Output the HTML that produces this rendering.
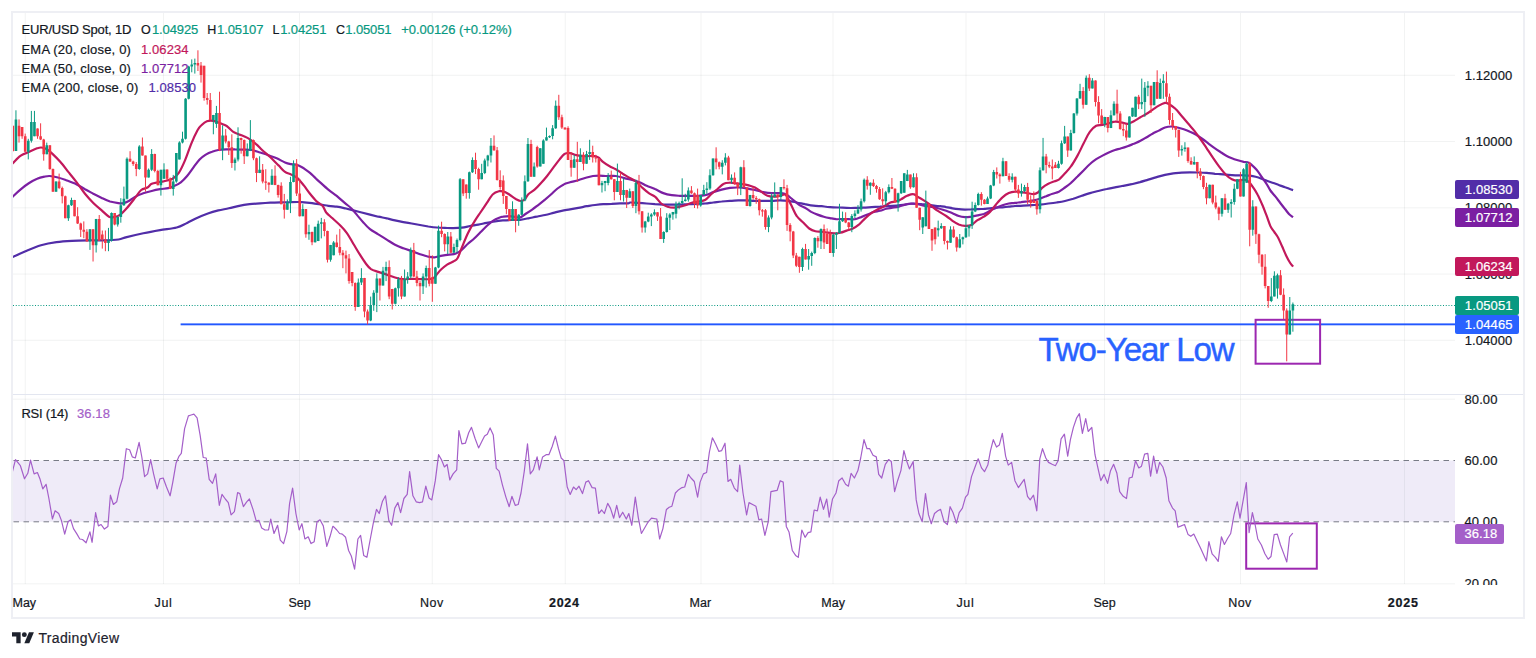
<!DOCTYPE html><html><head><meta charset="utf-8"><title>EUR/USD chart</title><style>
html,body{margin:0;padding:0;background:#fff}
body{width:1536px;height:658px;position:relative;overflow:hidden;font-family:"Liberation Sans",sans-serif;color:#131722}
#frame{position:absolute;left:11px;top:11px;width:1510px;height:604px;border:2px solid #EEEFF4}
svg{position:absolute;left:0;top:0}
.t{position:absolute;white-space:nowrap;font-size:13px;line-height:16px;-webkit-text-stroke:0.2px}
.ax{position:absolute;left:1455px;width:69px;text-align:center;font-size:13px;line-height:16px;color:#131722;letter-spacing:0.1px;-webkit-text-stroke:0.2px}
.tag{position:absolute;left:1455px;width:64.4px;height:19.3px;border-radius:2px;color:#fff;font-size:13px;line-height:20.4px;overflow:hidden;text-align:center;letter-spacing:0.1px;text-indent:3px;-webkit-text-stroke:0.2px}
.tm{position:absolute;top:595px;width:60px;margin-left:-30px;text-align:center;font-size:12.5px;line-height:16px;color:#131722;-webkit-text-stroke:0.2px}
.clip{position:absolute;left:1455px;top:395px;width:68px;height:189.8px;overflow:hidden}

</style></head><body>
<div id="frame"></div>
<svg width="1536" height="658" viewBox="0 0 1536 658"><rect x="13" y="460.5" width="1442" height="61.3" fill="#EFEBF8"/><rect x="24.75" y="13" width="1" height="571" fill="#2A2E39" fill-opacity="0.06"/><rect x="163.00" y="13" width="1" height="571" fill="#2A2E39" fill-opacity="0.06"/><rect x="299.00" y="13" width="1" height="571" fill="#2A2E39" fill-opacity="0.06"/><rect x="431.75" y="13" width="1" height="571" fill="#2A2E39" fill-opacity="0.06"/><rect x="564.75" y="13" width="1" height="571" fill="#2A2E39" fill-opacity="0.06"/><rect x="700.50" y="13" width="1" height="571" fill="#2A2E39" fill-opacity="0.06"/><rect x="832.50" y="13" width="1" height="571" fill="#2A2E39" fill-opacity="0.06"/><rect x="965.50" y="13" width="1" height="571" fill="#2A2E39" fill-opacity="0.06"/><rect x="1104.00" y="13" width="1" height="571" fill="#2A2E39" fill-opacity="0.06"/><rect x="1240.00" y="13" width="1" height="571" fill="#2A2E39" fill-opacity="0.06"/><rect x="1404.00" y="13" width="1" height="571" fill="#2A2E39" fill-opacity="0.06"/><rect x="13" y="74.80" width="1442" height="1" fill="#2A2E39" fill-opacity="0.06"/><rect x="13" y="141.05" width="1442" height="1" fill="#2A2E39" fill-opacity="0.06"/><rect x="13" y="207.30" width="1442" height="1" fill="#2A2E39" fill-opacity="0.06"/><rect x="13" y="273.55" width="1442" height="1" fill="#2A2E39" fill-opacity="0.06"/><rect x="13" y="339.80" width="1442" height="1" fill="#2A2E39" fill-opacity="0.06"/><rect x="13" y="398.7" width="1442" height="1" fill="#2A2E39" fill-opacity="0.06"/><rect x="13" y="583.3" width="1442" height="1" fill="#2A2E39" fill-opacity="0.06"/><rect x="13" y="394" width="1510" height="1" fill="#E3E6F0"/><line x1="13" y1="460.5" x2="1455" y2="460.5" stroke="#787B86" stroke-width="1" stroke-dasharray="5.5 4.5" stroke-dashoffset="-0.5"/><line x1="13" y1="521.8" x2="1455" y2="521.8" stroke="#787B86" stroke-width="1" stroke-dasharray="5.5 4.5" stroke-dashoffset="-0.5"/><rect x="180.6" y="323.4" width="1274.4" height="1.9" fill="#2258FF"/><rect x="1255.6" y="319.8" width="64.5" height="43.9" fill="none" stroke="#9C27B0" stroke-width="2"/><rect x="1246.2" y="523.4" width="70.6" height="45.3" fill="none" stroke="#9C27B0" stroke-width="2"/><line x1="13" y1="305.5" x2="1455" y2="305.5" stroke="#089981" stroke-width="1" stroke-dasharray="1 1.75"/><clipPath id="cp"><rect x="13" y="13" width="1442" height="381"/></clipPath><g clip-path="url(#cp)"><path d="M9.0 258.7C9.6 258.5 9.8 258.4 12.6 257.1C15.3 255.8 20.8 253.2 25.5 251.2C30.2 249.2 35.8 246.7 41.0 245.2C46.2 243.7 51.3 242.8 56.5 242.1C61.7 241.4 66.8 241.1 72.0 240.8C77.2 240.5 82.3 240.4 87.5 240.3C92.7 240.2 97.8 240.4 103.0 240.3C108.2 240.2 114.6 240.0 118.5 239.5C122.4 239.0 122.5 238.1 126.7 237.1C130.8 236.1 137.8 234.5 143.3 233.3C148.9 232.2 154.4 231.2 160.0 230.2C165.6 229.2 172.2 228.7 176.7 227.5C181.2 226.3 183.6 224.5 187.1 222.9C190.6 221.3 194.0 219.3 197.5 217.7C201.0 216.1 204.4 214.8 207.9 213.5C211.4 212.3 214.9 211.3 218.3 210.4C221.8 209.5 225.3 209.1 228.8 208.3C232.2 207.6 235.7 206.5 239.2 205.8C242.6 205.1 246.1 204.6 249.6 204.2C253.1 203.8 256.5 203.6 260.0 203.3C263.5 203.1 266.9 202.9 270.4 202.7C273.9 202.5 277.4 202.4 280.8 202.3C284.3 202.2 287.8 202.1 291.2 202.1C294.7 202.0 298.2 201.9 301.7 202.1C305.1 202.3 307.6 202.5 312.1 203.1C316.5 203.8 324.2 205.2 328.3 205.8C332.4 206.4 333.9 206.3 336.7 206.7C339.4 207.1 342.2 207.7 345.0 208.3C347.8 209.0 350.6 209.7 353.3 210.4C356.1 211.1 358.9 211.8 361.7 212.5C364.4 213.2 367.2 213.9 370.0 214.6C372.8 215.3 375.6 216.0 378.3 216.7C381.1 217.3 383.9 217.7 386.7 218.3C389.4 219.0 392.2 219.8 395.0 220.4C397.8 221.0 400.6 221.6 403.3 222.1C406.1 222.6 408.9 223.1 411.7 223.5C414.4 224.0 417.2 224.5 420.0 225.0C422.8 225.5 425.6 226.0 428.3 226.5C431.1 226.9 433.9 227.3 436.7 227.5C439.4 227.7 442.2 227.8 445.0 227.9C447.8 228.0 450.6 228.2 453.3 228.1C456.1 228.1 458.9 228.1 461.7 227.7C464.4 227.4 467.2 226.6 470.0 226.0C472.8 225.5 475.6 225.1 478.3 224.6C481.1 224.1 483.9 223.4 486.7 222.9C489.4 222.4 492.2 221.9 495.0 221.5C497.8 221.0 500.6 220.7 503.3 220.4C506.1 220.2 508.9 220.1 511.7 220.0C514.4 219.9 517.2 220.1 520.0 219.8C522.8 219.5 525.6 218.9 528.3 218.3C531.1 217.8 533.9 217.2 536.7 216.7C539.4 216.1 542.2 215.6 545.0 215.0C547.8 214.4 550.6 213.6 553.3 212.9C556.1 212.2 558.9 211.4 561.7 210.8C564.4 210.2 567.2 209.9 570.0 209.4C572.8 208.9 575.6 208.4 578.3 207.9C581.1 207.4 583.9 206.7 586.7 206.2C589.4 205.8 592.2 205.3 595.0 205.0C597.8 204.7 600.6 204.4 603.3 204.2C606.1 204.0 608.9 203.9 611.7 203.8C614.4 203.6 617.2 203.4 620.0 203.3C622.8 203.3 626.7 203.5 628.3 203.3C630.0 203.2 628.3 202.6 630.0 202.5C631.7 202.4 635.6 202.7 638.3 202.9C641.1 203.1 643.9 203.3 646.7 203.5C649.4 203.8 652.2 204.0 655.0 204.2C657.8 204.3 660.6 204.5 663.3 204.6C666.1 204.7 668.9 204.6 671.7 204.6C674.4 204.6 677.2 204.7 680.0 204.6C682.8 204.5 685.6 204.3 688.3 204.2C691.1 204.0 693.9 203.9 696.7 203.8C699.4 203.6 702.2 203.8 705.0 203.5C707.8 203.3 710.6 202.8 713.3 202.5C716.1 202.2 718.9 201.7 721.7 201.5C724.4 201.2 727.2 201.0 730.0 200.8C732.8 200.7 735.6 200.5 738.3 200.4C741.1 200.3 743.9 200.3 746.7 200.4C749.4 200.5 752.2 200.8 755.0 200.8C757.8 200.9 760.6 200.8 763.3 200.8C766.1 200.8 768.9 200.9 771.7 200.8C774.4 200.8 777.2 200.4 780.0 200.4C782.8 200.4 785.6 200.5 788.3 200.8C791.1 201.2 793.9 201.9 796.7 202.5C799.4 203.1 802.2 203.6 805.0 204.2C807.8 204.7 810.6 205.3 813.3 205.6C816.1 206.0 818.9 206.0 821.7 206.2C824.4 206.5 827.2 206.9 830.0 207.1C832.8 207.3 835.6 207.4 838.3 207.5C841.1 207.6 843.9 207.8 846.7 207.9C849.4 208.0 852.2 208.0 855.0 207.9C857.8 207.9 860.6 207.8 863.3 207.7C866.1 207.6 868.9 207.3 871.7 207.1C874.4 206.9 877.2 206.8 880.0 206.7C882.8 206.5 885.6 206.4 888.3 206.2C891.1 206.1 893.9 205.9 896.7 205.6C899.4 205.3 902.2 204.9 905.0 204.6C907.8 204.2 910.6 203.6 913.3 203.5C916.1 203.5 918.9 203.9 921.7 204.2C924.4 204.4 927.2 204.7 930.0 205.0C932.8 205.3 936.7 206.0 938.3 206.2C940.0 206.5 938.7 206.1 940.0 206.2C941.3 206.4 944.2 206.7 946.2 207.1C948.3 207.4 950.4 208.0 952.5 208.3C954.6 208.7 956.7 209.0 958.8 209.2C960.8 209.4 962.9 209.5 965.0 209.6C967.1 209.6 969.2 209.4 971.2 209.4C973.3 209.3 975.4 209.3 977.5 209.2C979.6 209.1 981.7 208.9 983.8 208.8C985.8 208.6 987.9 208.5 990.0 208.3C992.1 208.2 994.2 207.9 996.2 207.7C998.3 207.5 1000.4 207.5 1002.5 207.3C1004.6 207.1 1006.7 206.9 1008.8 206.7C1010.8 206.5 1012.6 206.2 1015.0 206.0C1017.4 205.9 1020.6 205.8 1023.3 205.6C1026.1 205.5 1028.9 205.4 1031.7 205.2C1034.4 205.0 1037.2 204.9 1040.0 204.6C1042.8 204.3 1045.6 203.9 1048.3 203.5C1051.1 203.2 1053.9 202.9 1056.7 202.5C1059.4 202.1 1062.2 201.7 1065.0 201.0C1067.8 200.4 1070.6 199.6 1073.3 198.8C1076.1 197.9 1078.9 196.8 1081.7 195.8C1084.4 194.9 1087.2 193.9 1090.0 193.1C1092.8 192.3 1095.6 191.7 1098.3 191.0C1101.1 190.3 1103.9 189.6 1106.7 189.0C1109.4 188.3 1112.2 187.8 1115.0 187.3C1117.8 186.8 1120.6 186.4 1123.3 185.8C1126.1 185.3 1128.9 184.8 1131.7 184.2C1134.4 183.5 1137.2 182.8 1140.0 182.1C1142.8 181.3 1145.6 180.4 1148.3 179.6C1151.1 178.8 1153.9 177.9 1156.7 177.1C1159.4 176.3 1162.2 175.4 1165.0 174.8C1167.8 174.2 1170.6 173.7 1173.3 173.3C1176.1 173.0 1178.9 172.9 1181.7 172.7C1184.4 172.5 1187.2 172.3 1190.0 172.3C1192.8 172.3 1195.6 172.4 1198.3 172.5C1201.1 172.6 1203.9 172.7 1206.7 172.9C1209.4 173.1 1212.8 173.6 1215.0 173.8C1217.2 173.9 1218.2 174.0 1220.0 174.1C1221.8 174.3 1224.0 174.5 1225.9 174.7C1227.9 174.9 1229.9 175.0 1231.9 175.1C1233.8 175.2 1235.8 175.3 1237.8 175.3C1239.8 175.3 1241.7 175.2 1243.7 175.3C1245.7 175.4 1247.7 175.5 1249.6 175.7C1251.6 175.9 1253.6 176.2 1255.6 176.7C1257.5 177.2 1259.5 177.9 1261.5 178.7C1263.5 179.4 1265.5 180.3 1267.4 181.0C1269.4 181.8 1271.4 182.3 1273.4 183.0C1275.3 183.7 1277.3 184.5 1279.3 185.2C1281.3 185.9 1283.6 186.6 1285.2 187.2C1286.9 187.7 1287.9 188.2 1289.2 188.7C1290.5 189.2 1292.5 189.9 1293.1 190.1" stroke="#512DA8" stroke-width="2.2" fill="none" stroke-linejoin="round"/><path d="M9.0 200.1C9.6 199.6 10.6 198.6 12.5 196.9C14.4 195.1 17.7 191.8 20.4 189.6C23.1 187.3 26.0 185.1 28.8 183.3C31.5 181.5 34.5 179.9 37.1 178.8C39.7 177.6 42.3 177.1 44.4 176.7C46.5 176.2 47.3 175.9 49.6 176.0C51.8 176.2 55.1 176.8 57.9 177.5C60.7 178.2 63.1 179.1 66.2 180.2C69.4 181.4 73.5 182.9 76.7 184.4C79.8 185.9 82.2 187.6 85.0 189.2C87.8 190.7 90.6 192.3 93.3 193.8C96.1 195.2 98.9 196.6 101.7 197.9C104.4 199.2 107.2 200.6 110.0 201.5C112.8 202.3 116.1 202.8 118.3 203.1C120.6 203.4 121.8 203.5 123.5 203.1C125.3 202.8 126.8 202.1 128.8 201.0C130.7 200.0 132.6 198.2 135.0 196.9C137.4 195.6 140.6 194.3 143.3 193.3C146.1 192.4 148.9 191.7 151.7 191.0C154.4 190.3 157.2 189.7 160.0 189.2C162.8 188.7 165.9 188.7 168.3 188.1C170.8 187.6 172.5 186.8 174.6 185.8C176.7 184.9 178.8 183.9 180.8 182.3C182.9 180.7 185.0 178.5 187.1 176.0C189.2 173.6 191.2 170.5 193.3 167.7C195.4 164.9 197.5 161.6 199.6 159.4C201.7 157.2 203.8 155.9 205.8 154.6C207.9 153.3 210.0 152.4 212.1 151.7C214.2 150.9 215.9 150.4 218.3 150.0C220.8 149.6 223.9 149.5 226.7 149.4C229.4 149.3 232.2 149.3 235.0 149.4C237.8 149.4 240.6 149.5 243.3 149.6C246.1 149.7 248.9 149.5 251.7 150.0C254.4 150.5 257.2 151.6 260.0 152.5C262.8 153.4 265.6 154.2 268.3 155.2C271.1 156.2 273.9 157.1 276.7 158.3C279.4 159.5 282.6 161.5 285.0 162.5C287.4 163.5 289.2 163.8 291.2 164.2C293.3 164.6 295.4 164.3 297.5 165.0C299.6 165.7 301.7 167.0 303.8 168.3C305.8 169.7 307.9 171.2 310.0 172.9C312.1 174.7 313.2 176.0 316.2 178.8C319.3 181.5 324.9 186.7 328.3 189.6C331.7 192.4 333.9 193.6 336.7 195.8C339.4 198.1 342.6 201.0 345.0 203.1C347.4 205.2 349.2 206.2 351.2 208.3C353.3 210.4 355.4 213.2 357.5 215.6C359.6 218.1 361.7 220.7 363.8 222.9C365.8 225.2 367.6 227.3 370.0 229.2C372.4 231.1 375.6 232.6 378.3 234.4C381.1 236.1 383.9 237.8 386.7 239.6C389.4 241.3 392.2 243.3 395.0 244.8C397.8 246.3 400.6 247.3 403.3 248.3C406.1 249.4 408.9 250.1 411.7 251.0C414.4 252.0 417.2 253.2 420.0 254.2C422.8 255.1 425.9 256.1 428.3 256.7C430.8 257.2 432.5 257.4 434.6 257.3C436.7 257.2 438.4 256.3 440.8 255.8C443.3 255.4 446.7 254.9 449.2 254.6C451.6 254.2 453.3 254.5 455.4 253.8C457.5 253.0 459.6 251.7 461.7 250.0C463.8 248.3 465.8 245.7 467.9 243.8C470.0 241.8 472.1 240.5 474.2 238.5C476.2 236.6 478.3 234.4 480.4 232.3C482.5 230.2 484.6 228.0 486.7 226.0C488.8 224.1 490.8 222.2 492.9 220.8C495.0 219.4 497.4 218.4 499.2 217.7C500.9 217.0 501.6 216.9 503.3 216.7C505.1 216.4 507.5 216.2 509.6 216.2C511.7 216.3 513.9 216.9 515.8 217.1C517.7 217.2 519.3 217.7 521.0 217.1C522.8 216.5 524.3 214.8 526.2 213.5C528.2 212.3 530.4 210.9 532.5 209.4C534.6 207.9 536.7 206.2 538.8 204.6C540.8 203.0 542.9 201.3 545.0 199.6C547.1 197.8 549.2 196.0 551.2 194.2C553.3 192.3 555.4 190.2 557.5 188.5C559.6 186.9 561.7 185.4 563.8 184.4C565.8 183.3 567.6 183.0 570.0 182.3C572.4 181.6 575.6 181.0 578.3 180.2C581.1 179.4 584.2 178.2 586.7 177.5C589.1 176.8 590.8 176.4 592.9 176.0C595.0 175.7 596.7 175.6 599.2 175.6C601.6 175.6 604.7 176.0 607.5 176.0C610.3 176.1 613.1 175.7 615.8 176.0C618.6 176.4 620.4 177.2 624.2 178.1C627.9 179.1 634.6 180.4 638.3 181.7C642.1 183.0 643.9 184.6 646.7 185.8C649.4 187.0 652.2 187.7 655.0 189.0C657.8 190.2 660.6 192.1 663.3 193.1C666.1 194.2 668.9 194.8 671.7 195.2C674.4 195.7 677.2 195.7 680.0 195.8C682.8 195.9 685.6 195.8 688.3 195.8C691.1 195.8 693.9 195.9 696.7 195.8C699.4 195.7 702.2 195.8 705.0 195.2C707.8 194.6 710.6 193.0 713.3 192.1C716.1 191.1 718.9 190.3 721.7 189.6C724.4 188.9 727.2 188.3 730.0 187.9C732.8 187.6 735.6 187.4 738.3 187.5C741.1 187.6 743.9 187.9 746.7 188.3C749.4 188.8 752.2 189.4 755.0 190.0C757.8 190.6 760.6 191.6 763.3 192.1C766.1 192.6 768.9 193.0 771.7 193.1C774.4 193.3 777.6 192.9 780.0 193.1C782.4 193.4 784.2 193.5 786.2 194.6C788.3 195.6 790.4 197.7 792.5 199.4C794.6 201.0 796.7 203.2 798.8 204.6C800.8 206.0 802.9 206.5 805.0 207.7C807.1 208.9 809.2 210.7 811.2 211.9C813.3 213.0 815.4 213.8 817.5 214.6C819.6 215.4 821.7 216.1 823.8 216.7C825.8 217.3 827.9 217.7 830.0 218.1C832.1 218.5 834.2 219.0 836.2 219.2C838.3 219.3 840.4 219.2 842.5 219.2C844.6 219.2 846.7 219.2 848.8 219.2C850.8 219.2 852.9 219.5 855.0 219.2C857.1 218.8 859.2 217.8 861.2 217.1C863.3 216.3 865.4 215.5 867.5 214.6C869.6 213.7 871.7 212.5 873.8 211.9C875.8 211.2 877.9 211.4 880.0 210.8C882.1 210.3 884.2 209.3 886.2 208.8C888.3 208.2 890.4 208.1 892.5 207.7C894.6 207.4 896.7 207.2 898.8 206.7C900.8 206.1 902.9 205.1 905.0 204.6C907.1 204.1 909.2 203.6 911.2 203.5C913.3 203.5 915.4 203.8 917.5 204.2C919.6 204.5 921.7 205.2 923.8 205.6C925.8 206.0 927.9 206.3 930.0 206.7C932.1 207.0 933.5 207.0 936.2 207.7C939.0 208.4 943.5 209.9 946.2 210.8C949.0 211.8 950.4 212.5 952.5 213.3C954.6 214.2 956.7 215.4 958.8 216.0C960.8 216.7 962.9 217.0 965.0 217.1C967.1 217.2 969.2 216.9 971.2 216.7C973.3 216.4 975.4 215.9 977.5 215.4C979.6 215.0 981.7 214.7 983.8 214.0C985.8 213.2 987.9 211.9 990.0 210.8C992.1 209.8 994.2 208.6 996.2 207.7C998.3 206.8 1000.4 205.9 1002.5 205.2C1004.6 204.5 1006.7 203.9 1008.8 203.5C1010.8 203.2 1012.9 203.2 1015.0 202.9C1017.1 202.7 1019.2 202.3 1021.2 202.1C1023.3 201.8 1025.4 201.7 1027.5 201.5C1029.6 201.2 1031.7 200.9 1033.8 200.4C1035.8 200.0 1037.9 199.4 1040.0 198.8C1042.1 198.1 1044.2 197.1 1046.2 196.2C1048.3 195.4 1050.4 194.5 1052.5 193.8C1054.6 193.0 1056.7 192.7 1058.8 191.7C1060.8 190.6 1062.9 189.0 1065.0 187.5C1067.1 186.0 1069.2 184.5 1071.2 182.7C1073.3 180.9 1075.4 178.5 1077.5 176.5C1079.6 174.4 1081.7 172.3 1083.8 170.2C1085.8 168.1 1087.9 165.8 1090.0 164.0C1092.1 162.1 1094.2 160.6 1096.2 159.2C1098.3 157.8 1100.4 156.7 1102.5 155.6C1104.6 154.5 1106.7 153.4 1108.8 152.5C1110.8 151.6 1112.9 150.7 1115.0 150.0C1117.1 149.3 1119.2 149.0 1121.2 148.3C1123.3 147.7 1125.4 147.0 1127.5 146.2C1129.6 145.5 1131.7 144.6 1133.8 143.8C1135.8 142.9 1137.9 142.1 1140.0 141.0C1142.1 140.0 1144.2 138.7 1146.2 137.5C1148.3 136.3 1150.4 134.9 1152.5 133.8C1154.6 132.6 1156.7 131.7 1158.8 130.6C1160.8 129.6 1162.9 128.2 1165.0 127.5C1167.1 126.8 1169.2 126.5 1171.2 126.5C1173.3 126.5 1175.4 127.0 1177.5 127.5C1179.6 128.0 1181.7 128.5 1183.8 129.2C1185.8 129.9 1187.9 130.7 1190.0 131.7C1192.1 132.6 1194.2 133.6 1196.2 134.8C1198.3 136.0 1200.4 137.5 1202.5 139.0C1204.6 140.5 1206.7 142.2 1208.8 143.8C1210.8 145.3 1212.9 146.9 1215.0 148.3C1217.1 149.8 1219.4 151.3 1221.2 152.5C1223.1 153.7 1224.2 154.6 1225.9 155.5C1227.7 156.5 1229.9 157.5 1231.9 158.3C1233.8 159.1 1235.8 159.7 1237.8 160.3C1239.8 160.9 1242.1 161.5 1243.7 161.9C1245.4 162.2 1246.4 161.8 1247.7 162.3C1249.0 162.7 1250.1 163.6 1251.6 164.8C1253.1 166.1 1254.9 167.8 1256.6 169.8C1258.2 171.7 1259.9 174.4 1261.5 176.7C1263.1 179.0 1265.0 181.3 1266.4 183.6C1267.9 185.9 1268.9 188.4 1270.4 190.5C1271.9 192.7 1273.7 194.4 1275.3 196.4C1277.0 198.5 1278.6 200.8 1280.3 203.0C1281.9 205.1 1283.7 207.4 1285.2 209.3C1286.7 211.2 1287.9 212.9 1289.2 214.2C1290.5 215.5 1292.5 216.7 1293.1 217.2" stroke="#7B1FA2" stroke-width="2.2" fill="none" stroke-linejoin="round"/><path d="M9.0 166.9C9.6 166.4 10.6 165.4 12.5 163.5C14.4 161.7 17.7 157.7 20.4 155.8C23.1 153.9 26.0 153.3 28.8 152.1C31.5 150.8 35.0 149.1 37.1 148.3C39.2 147.6 39.7 147.4 41.2 147.5C42.8 147.6 44.7 148.0 46.5 149.0C48.2 149.9 49.4 151.0 51.7 153.1C53.9 155.2 57.2 158.3 60.0 161.5C62.8 164.6 65.6 168.4 68.3 171.9C71.1 175.3 73.9 178.6 76.7 182.3C79.4 185.9 82.2 190.3 85.0 193.8C87.8 197.2 90.6 200.3 93.3 203.1C96.1 205.9 99.1 208.2 101.7 210.4C104.3 212.7 106.9 215.6 109.0 216.7C111.0 217.8 112.3 217.4 114.2 217.1C116.1 216.7 118.3 216.0 120.4 214.6C122.5 213.1 124.2 211.1 126.7 208.3C129.1 205.6 132.6 201.0 135.0 197.9C137.4 194.9 139.2 191.7 141.2 190.0C143.3 188.3 145.8 188.5 147.5 187.5C149.2 186.5 149.9 184.6 151.7 183.8C153.4 182.9 155.8 182.7 157.9 182.3C160.0 181.9 161.7 181.8 164.2 181.2C166.6 180.7 170.1 180.1 172.5 178.8C174.9 177.4 176.7 176.0 178.8 172.9C180.8 169.9 182.9 165.3 185.0 160.4C187.1 155.6 189.2 148.8 191.2 143.8C193.3 138.7 195.8 133.3 197.5 130.2C199.2 127.1 200.1 126.5 201.7 125.0C203.2 123.5 205.0 121.9 206.9 121.2C208.8 120.6 210.9 120.5 213.1 120.8C215.4 121.2 218.2 122.5 220.4 123.3C222.7 124.2 224.6 124.7 226.7 126.0C228.8 127.4 230.8 130.3 232.9 131.7C235.0 133.1 236.7 133.3 239.2 134.4C241.6 135.4 244.7 136.4 247.5 137.9C250.3 139.5 253.4 141.7 255.8 143.8C258.3 145.8 259.7 147.7 262.1 150.0C264.5 152.3 267.6 154.7 270.4 157.3C273.2 159.9 276.3 163.2 278.8 165.6C281.2 168.1 282.9 170.4 285.0 171.9C287.1 173.4 289.2 173.5 291.2 174.6C293.3 175.6 295.4 176.3 297.5 178.1C299.6 179.9 301.7 182.8 303.8 185.4C305.8 188.0 307.9 191.1 310.0 193.8C312.1 196.4 314.2 199.0 316.2 201.0C318.3 203.1 320.8 203.9 322.5 205.8C324.2 207.7 324.6 210.4 326.2 212.5C327.9 214.6 330.1 216.1 332.5 218.3C334.9 220.6 338.4 223.5 340.8 226.0C343.3 228.5 345.0 230.4 347.1 233.3C349.2 236.3 351.2 240.3 353.3 243.8C355.4 247.2 357.5 250.9 359.6 254.2C361.7 257.5 363.9 261.0 365.8 263.5C367.7 266.0 369.0 267.8 371.0 269.2C373.1 270.6 375.7 271.0 378.3 271.9C380.9 272.8 383.9 273.6 386.7 274.6C389.4 275.5 392.2 276.7 395.0 277.5C397.8 278.3 400.6 279.0 403.3 279.2C406.1 279.4 408.9 278.8 411.7 278.8C414.4 278.8 417.2 279.1 420.0 279.2C422.8 279.2 426.1 279.3 428.3 279.2C430.6 279.0 432.2 278.9 433.5 278.1C434.9 277.4 435.5 276.0 436.7 274.6C437.9 273.2 439.1 271.5 440.8 269.8C442.6 268.1 445.0 266.0 447.1 264.6C449.2 263.2 451.6 262.5 453.3 261.5C455.1 260.4 456.1 260.6 457.5 258.3C458.9 256.1 459.9 252.1 461.7 247.9C463.4 243.8 465.8 237.7 467.9 233.3C470.0 229.0 472.1 225.3 474.2 221.9C476.2 218.4 478.3 215.6 480.4 212.5C482.5 209.4 484.6 206.2 486.7 203.1C488.8 200.1 490.8 196.1 492.9 194.2C495.0 192.2 497.3 191.7 499.2 191.2C501.1 190.8 502.6 191.1 504.4 191.7C506.1 192.3 507.7 193.6 509.6 194.8C511.5 196.0 513.9 197.9 515.8 199.0C517.7 200.0 519.5 201.0 521.0 201.0C522.6 201.0 524.0 200.1 525.2 199.0C526.4 197.8 526.8 195.7 528.3 194.2C529.9 192.6 532.5 191.4 534.6 189.6C536.7 187.8 538.8 185.6 540.8 183.3C542.9 181.1 545.0 178.6 547.1 176.0C549.2 173.4 551.2 170.5 553.3 167.7C555.4 164.9 557.7 161.7 559.6 159.4C561.5 157.0 563.1 154.8 564.8 153.8C566.5 152.7 568.1 152.9 570.0 153.1C571.9 153.4 573.8 154.7 576.2 155.2C578.7 155.7 581.8 156.1 584.6 156.2C587.4 156.4 590.7 155.7 592.9 155.8C595.2 156.0 596.4 156.2 598.1 157.3C599.9 158.3 601.4 160.6 603.3 162.1C605.2 163.6 607.5 165.1 609.6 166.2C611.7 167.4 613.8 168.0 615.8 169.2C617.9 170.3 620.0 172.0 622.1 173.3C624.2 174.7 626.0 175.7 628.3 177.1C630.7 178.5 633.9 179.9 636.2 181.7C638.6 183.5 640.4 186.0 642.5 187.9C644.6 189.8 646.7 191.7 648.8 193.1C650.8 194.6 652.9 194.9 655.0 196.7C657.1 198.4 659.2 201.9 661.2 203.5C663.3 205.2 665.4 206.0 667.5 206.7C669.6 207.4 671.7 207.7 673.8 207.7C675.8 207.7 677.9 207.1 680.0 206.7C682.1 206.2 684.2 205.7 686.2 205.0C688.3 204.3 690.4 203.1 692.5 202.5C694.6 201.9 696.7 201.9 698.8 201.5C700.8 201.0 702.9 201.2 705.0 200.0C707.1 198.8 709.2 196.0 711.2 194.2C713.3 192.3 715.4 190.7 717.5 189.0C719.6 187.2 721.7 184.8 723.8 183.8C725.8 182.7 727.9 182.8 730.0 182.7C732.1 182.6 734.2 183.1 736.2 183.3C738.3 183.6 740.4 183.8 742.5 184.2C744.6 184.5 746.7 184.9 748.8 185.4C750.8 186.0 752.9 186.5 755.0 187.5C757.1 188.5 759.2 190.3 761.2 191.7C763.3 193.1 765.4 195.0 767.5 195.8C769.6 196.7 771.7 196.7 773.8 196.7C775.8 196.7 778.1 196.2 780.0 195.8C781.9 195.5 783.8 194.0 785.2 194.6C786.6 195.2 787.1 197.2 788.3 199.4C789.5 201.6 791.1 204.9 792.5 207.7C793.9 210.5 794.9 213.6 796.7 216.0C798.4 218.5 800.8 220.2 802.9 222.3C805.0 224.4 807.1 227.0 809.2 228.5C811.3 230.0 813.3 230.7 815.4 231.2C817.5 231.8 819.6 231.4 821.7 231.7C823.8 231.9 825.8 232.4 827.9 232.7C830.0 233.0 832.1 233.3 834.2 233.3C836.3 233.3 838.3 233.2 840.4 232.7C842.5 232.3 844.6 231.3 846.7 230.6C848.8 229.9 850.8 229.6 852.9 228.5C855.0 227.5 857.1 226.1 859.2 224.4C861.3 222.6 863.3 220.0 865.4 218.1C867.5 216.2 869.6 214.4 871.7 212.9C873.8 211.4 875.8 210.3 877.9 209.2C880.0 208.1 882.1 207.4 884.2 206.2C886.3 205.1 888.5 203.3 890.4 202.5C892.3 201.7 893.9 202.0 895.6 201.5C897.4 200.9 898.9 200.3 900.8 199.4C902.7 198.4 905.0 196.7 907.1 195.8C909.2 195.0 911.4 193.9 913.3 194.2C915.2 194.4 916.8 196.3 918.5 197.3C920.3 198.3 921.8 199.2 923.8 200.4C925.7 201.6 927.9 203.0 930.0 204.6C932.1 206.1 933.5 207.9 936.2 209.8C939.0 211.7 943.5 214.2 946.2 216.0C949.0 217.9 950.4 219.4 952.5 220.8C954.6 222.2 956.7 223.5 958.8 224.4C960.8 225.2 962.9 225.7 965.0 225.8C967.1 225.9 969.2 225.9 971.2 225.0C973.3 224.1 975.4 221.6 977.5 220.2C979.6 218.8 981.7 218.1 983.8 216.7C985.8 215.3 987.9 214.0 990.0 211.9C992.1 209.8 994.2 206.6 996.2 204.2C998.3 201.7 1000.4 199.1 1002.5 197.3C1004.6 195.5 1006.7 194.1 1008.8 193.1C1010.8 192.2 1012.9 191.8 1015.0 191.7C1017.1 191.5 1019.2 191.8 1021.2 192.1C1023.3 192.3 1025.4 192.8 1027.5 193.1C1029.6 193.5 1032.0 194.3 1033.8 194.2C1035.5 194.1 1036.5 193.5 1037.9 192.5C1039.3 191.5 1040.3 189.4 1042.1 187.9C1043.8 186.5 1046.2 184.9 1048.3 183.8C1050.4 182.6 1052.8 181.9 1054.6 181.2C1056.3 180.6 1057.0 180.9 1058.8 179.6C1060.5 178.3 1062.9 175.6 1065.0 173.3C1067.1 171.1 1069.2 169.0 1071.2 166.0C1073.3 163.1 1075.4 159.4 1077.5 155.6C1079.6 151.8 1081.7 147.1 1083.8 143.1C1085.8 139.1 1087.9 134.5 1090.0 131.7C1092.1 128.8 1094.2 126.9 1096.2 125.8C1098.3 124.7 1100.4 125.4 1102.5 125.0C1104.6 124.6 1106.7 123.9 1108.8 123.3C1110.8 122.8 1112.9 121.8 1115.0 121.7C1117.1 121.5 1119.2 121.9 1121.2 122.3C1123.3 122.6 1125.4 123.9 1127.5 123.8C1129.6 123.6 1131.7 122.3 1133.8 121.2C1135.8 120.2 1137.9 118.7 1140.0 117.5C1142.1 116.3 1144.2 115.2 1146.2 114.0C1148.3 112.7 1150.4 111.2 1152.5 109.8C1154.6 108.4 1156.7 106.8 1158.8 105.6C1160.8 104.5 1163.3 103.2 1165.0 102.9C1166.7 102.7 1167.4 103.2 1169.2 104.2C1170.9 105.1 1173.3 106.8 1175.4 108.8C1177.5 110.7 1179.6 113.6 1181.7 116.0C1183.8 118.5 1185.8 120.9 1187.9 123.3C1190.0 125.8 1192.1 128.0 1194.2 130.6C1196.2 133.2 1198.3 136.0 1200.4 139.0C1202.5 141.9 1204.6 145.2 1206.7 148.3C1208.8 151.5 1210.8 154.7 1212.9 157.7C1215.0 160.8 1217.0 163.8 1219.2 166.7C1221.3 169.5 1223.8 172.6 1225.9 174.7C1228.0 176.8 1229.9 178.3 1231.9 179.2C1233.8 180.2 1235.8 180.6 1237.8 180.6C1239.8 180.7 1241.9 179.5 1243.7 179.6C1245.5 179.8 1247.2 180.5 1248.7 181.6C1250.1 182.8 1251.1 184.4 1252.6 186.6C1254.1 188.7 1255.9 191.3 1257.5 194.5C1259.2 197.6 1261.0 201.9 1262.5 205.3C1264.0 208.8 1265.1 211.8 1266.4 215.2C1267.8 218.7 1269.1 223.3 1270.4 226.1C1271.7 228.9 1273.0 230.0 1274.3 232.0C1275.7 234.0 1277.0 235.5 1278.3 237.9C1279.6 240.4 1280.9 243.9 1282.3 246.8C1283.6 249.8 1284.9 253.0 1286.2 255.7C1287.5 258.4 1289.0 261.2 1290.2 263.0C1291.3 264.9 1292.6 266.0 1293.1 266.6" stroke="#C2185B" stroke-width="2.2" fill="none" stroke-linejoin="round"/><path d="M15.95 110.3V151.0M28.28 138.8V159.4M31.37 110.9V142.6M34.45 110.9V136.2M46.79 142.6V154.3M56.04 181.4V191.7M68.38 204.7V220.9M71.47 197.7V205.9M89.97 229.2V249.9M96.14 218.9V252.5M108.48 227.9V251.2M111.56 212.4V241.6M117.73 216.3V226.6M120.82 198.2V222.7M123.90 186.6V205.9M126.99 157.4V199.5M139.32 145.2V169.8M148.58 168.5V177.5M151.66 149.1V171.1M160.91 169.8V195.6M164.00 163.3V178.8M173.25 174.9V195.6M176.34 153.0V182.7M179.42 141.3V159.4M182.50 131.7V143.4M185.59 98.1V139.5M188.67 65.8V99.4M191.76 59.4V72.3M194.84 58.6V73.6M213.35 114.9V134.3M216.43 105.9V127.9M222.60 125.3V160.2M234.94 157.6V170.5M238.02 127.3V161.4M247.28 143.4V156.3M250.36 120.1V151.1M259.61 156.3V173.1M271.95 169.2V184.7M287.37 199.4V209.7M290.46 176.8V213.1M293.54 160.4V182.3M302.80 204.2V216.2M308.96 224.7V239.8M315.13 226.8V242.5M318.22 220.6V241.1M321.30 217.9V238.4M330.56 244.9V261.7M333.64 241.1V255.3M358.32 278.5V307.0M361.40 268.2V285.0M370.65 296.6V321.2M373.74 290.2V310.8M376.82 273.4V312.1M382.99 266.9V285.6M386.07 261.7V281.1M395.33 287.6V304.4M398.41 277.2V296.6M404.58 269.5V296.6M407.67 272.1V283.7M410.75 247.5V278.5M423.09 273.4V294.0M426.17 265.6V287.6M435.43 266.9V283.7M438.51 225.6V268.2M447.76 232.0V254.0M453.93 243.6V252.7M457.02 238.5V252.7M460.10 178.0V241.3M469.35 171.6V198.7M472.44 157.4V172.9M481.69 163.8V179.3M484.78 158.6V174.1M487.86 154.8V166.4M490.94 138.0V162.5M512.54 201.3V220.7M518.70 214.2V225.8M521.79 197.4V215.5M524.87 175.4V201.3M527.96 138.0V181.9M534.13 162.5V176.7M540.29 148.3V166.4M543.38 139.3V163.8M546.46 127.6V140.6M549.55 135.4V138.0M552.63 125.1V139.3M555.72 100.5V128.9M574.22 154.8V167.7M580.39 148.3V161.9M586.56 150.9V163.8M589.65 139.8V159.9M601.98 180.9V192.5M605.07 180.9V191.2M608.15 173.1V185.3M617.40 163.6V191.9M623.57 178.3V201.6M629.74 188.6V197.7M635.91 179.6V213.2M645.16 220.9V232.6M648.25 212.7V222.2M651.33 213.2V226.1M654.42 209.3V215.8M663.67 231.3V242.9M666.76 213.2V232.6M669.84 213.2V230.0M672.92 211.9V219.7M676.01 201.6V218.4M679.09 201.6V209.3M682.18 178.3V204.1M685.26 193.8V201.6M688.35 187.4V201.6M700.68 195.1V206.7M703.77 184.8V195.1M706.85 182.2V193.8M709.94 169.3V189.9M713.02 158.4V175.7M722.27 160.2V174.4M725.36 153.2V165.4M731.53 174.4V183.5M740.78 166.7V195.1M750.03 194.9V206.7M768.54 215.4V232.2M771.62 193.5V219.3M774.71 182.4V197.4M780.88 187.0V199.9M802.47 247.7V271.0M808.64 249.0V269.7M811.72 251.6V265.8M814.81 237.4V254.2M820.98 228.4V249.0M833.31 233.5V256.8M836.40 232.2V249.0M839.48 203.8V233.5M842.57 211.6V221.9M851.82 214.1V232.2M854.90 210.3V218.0M857.99 205.1V214.1M861.07 198.6V211.6M864.16 178.5V202.5M870.33 182.4V194.8M885.75 190.9V205.1M888.83 184.4V193.5M898.09 192.7V211.6M901.17 181.1V194.0M904.25 173.3V192.7M907.34 169.9V181.1M913.51 173.3V187.5M922.76 217.2V234.0M925.84 190.6V226.3M938.18 220.6V236.6M941.27 223.2V228.9M950.52 226.3V242.8M959.77 234.0V248.2M962.86 236.6V244.4M965.94 215.9V237.9M969.03 225.0V236.6M972.11 201.7V228.9M975.20 202.5V212.1M978.28 192.7V205.6M987.53 196.6V203.9M990.62 184.9V199.1M993.70 169.9V186.2M1002.95 157.8V176.3M1012.21 173.3V182.4M1021.46 183.6V196.6M1024.55 184.9V192.2M1039.97 167.4V213.4M1043.05 137.9V170.7M1058.47 160.8V168.5M1061.56 140.6V164.7M1064.64 125.9V144.0M1070.81 129.8V150.4M1073.90 113.0V133.6M1076.98 98.2V115.6M1080.06 83.8V98.8M1086.23 75.5V104.8M1092.40 78.1V88.4M1104.74 116.8V127.2M1110.91 110.4V128.1M1113.99 101.3V115.6M1129.42 116.3V137.5M1132.50 107.8V116.8M1135.58 96.7V116.8M1141.75 78.6V109.1M1144.84 82.0V116.8M1147.92 81.2V96.2M1154.09 82.0V105.2M1160.26 78.6V98.8M1163.34 74.2V98.8M1181.85 145.3V155.6M1184.93 142.2V151.7M1194.19 156.4V164.6M1209.61 184.7V198.3M1221.95 198.3V216.6M1228.12 202.9V212.9M1231.20 199.2V217.5M1234.28 183.7V204.7M1237.37 179.2V189.2M1243.54 168.2V196.5M1246.62 161.9V182.8M1252.79 200.2V235.7M1271.30 278.1V302.1M1274.38 271.3V296.4M1277.47 273.6V298.6M1289.80 297.0V334.5M1292.89 302.5V331.7" stroke="#089981" stroke-width="1" fill="none"/><path d="M12.86 125.8V151.7M19.03 119.4V142.6M22.12 127.1V138.8M25.20 133.6V151.7M37.54 128.4V138.8M40.62 123.3V140.1M43.71 138.8V160.7M49.88 145.2V169.8M52.96 168.5V191.7M59.13 173.6V189.1M62.21 186.6V203.4M65.30 195.6V218.2M74.55 199.9V216.3M77.63 207.2V224.0M80.72 222.7V237.0M83.80 221.4V238.2M86.89 229.2V241.5M93.06 229.2V261.5M99.23 215.0V240.8M102.31 230.5V248.6M105.39 230.5V251.2M114.65 213.0V225.3M130.07 151.2V162.0M133.15 160.7V165.9M136.24 162.0V176.2M142.41 137.5V155.6M145.49 155.6V191.7M154.74 153.7V172.4M157.83 169.8V185.3M167.08 169.5V180.1M170.17 177.5V189.1M197.93 50.3V71.0M201.01 62.0V82.6M204.10 65.8V100.7M207.18 93.0V104.6M210.26 93.0V120.1M219.52 91.7V151.1M225.69 129.1V143.4M228.77 140.8V155.0M231.85 134.3V167.9M241.11 137.7V153.7M244.19 139.5V164.0M253.45 139.5V160.2M256.53 157.6V182.1M262.70 164.0V183.4M265.78 169.2V189.9M268.87 182.1V192.5M275.04 165.3V185.2M278.12 184.7V197.6M281.21 182.3V204.2M284.29 193.9V218.6M296.63 159.1V196.0M299.71 178.9V216.5M305.88 209.0V237.7M312.05 231.6V245.2M324.39 219.2V236.3M327.47 230.7V262.5M336.72 234.6V247.5M339.81 228.9V255.3M342.89 250.1V268.2M345.98 250.6V273.4M349.06 254.0V283.7M352.15 272.1V286.3M355.23 282.4V310.8M364.48 277.9V317.3M367.57 309.5V324.5M379.91 278.5V300.5M389.16 260.4V299.2M392.24 288.9V309.5M401.50 275.9V299.2M413.83 242.9V277.2M416.92 270.8V286.3M420.00 281.1V300.5M429.26 250.1V286.3M432.34 255.3V301.8M441.59 221.7V237.2M444.68 233.3V251.4M450.85 232.0V252.7M463.18 179.3V196.1M466.27 184.5V198.7M475.52 152.7V174.1M478.61 167.7V189.7M494.03 135.4V150.9M497.11 147.0V180.6M500.20 170.3V189.7M503.28 175.4V203.9M506.37 196.1V214.2M509.45 209.0V220.7M515.62 209.0V232.3M531.04 139.8V176.7M537.21 145.7V167.7M558.80 94.8V119.9M561.89 114.7V128.9M564.97 127.6V129.4M568.05 126.3V159.9M571.14 152.2V176.7M577.31 141.8V181.9M583.48 152.2V170.3M592.73 145.7V162.5M595.81 154.8V162.5M598.90 158.6V185.3M611.24 170.6V179.6M614.32 179.1V200.3M620.49 173.1V200.3M626.66 189.9V208.0M632.83 191.2V208.0M639.00 174.9V214.5M642.08 211.3V232.6M657.50 212.3V220.9M660.59 208.0V239.0M691.43 186.1V193.8M694.51 192.5V208.0M697.60 188.6V208.5M716.11 147.3V169.3M719.19 161.5V169.3M728.44 155.8V180.2M734.61 172.4V184.8M737.70 182.2V195.1M743.87 160.2V187.4M746.95 187.4V206.1M753.12 187.0V199.9M756.20 196.1V203.8M759.29 198.6V215.4M762.37 209.0V216.7M765.46 209.0V229.7M777.79 194.3V210.3M783.96 179.3V189.6M787.05 184.9V230.9M790.13 223.2V241.3M793.22 230.9V258.1M796.30 252.9V267.1M799.38 256.8V272.8M805.55 243.9V259.4M817.89 236.1V247.7M824.06 224.5V249.0M827.14 228.4V243.9M830.23 229.7V252.9M845.65 212.3V223.2M848.73 221.9V229.7M867.24 176.2V189.6M873.41 179.3V187.0M876.49 184.9V192.7M879.58 187.0V199.9M882.66 188.3V205.1M891.92 178.0V189.1M895.00 188.3V202.5M910.42 174.6V188.8M916.59 173.3V207.7M919.68 207.7V230.2M928.93 203.7V228.9M932.01 228.9V250.8M935.10 227.6V244.4M944.35 226.0V244.4M947.44 240.5V249.5M953.60 226.3V237.9M956.69 236.6V251.6M981.36 192.2V205.6M984.45 199.1V204.3M996.79 167.4V178.5M999.87 173.3V183.6M1006.04 161.2V175.9M1009.12 173.3V181.8M1015.29 176.7V192.7M1018.38 184.9V197.9M1027.63 182.9V204.3M1030.71 195.3V207.7M1033.80 191.4V203.0M1036.88 199.1V214.7M1046.14 153.9V173.3M1049.22 161.7V168.1M1052.31 159.5V179.4M1055.39 162.1V167.9M1067.73 136.6V156.9M1083.15 87.1V108.6M1089.32 74.2V91.0M1095.49 80.4V106.5M1098.57 96.2V123.3M1101.66 109.1V124.0M1107.82 117.1V132.4M1117.08 89.7V120.7M1120.16 111.2V129.8M1123.25 123.3V136.2M1126.33 124.6V140.6M1138.67 94.9V109.1M1151.01 85.8V113.0M1157.17 70.3V98.8M1166.43 71.6V102.6M1169.51 93.6V124.6M1172.60 113.0V129.8M1175.68 125.9V137.5M1178.77 129.8V156.9M1188.02 147.6V162.8M1191.10 157.3V164.6M1197.27 161.9V178.3M1200.36 168.2V180.1M1203.44 175.5V189.2M1206.53 182.8V204.3M1212.69 184.7V204.3M1215.78 195.6V209.3M1218.86 206.5V220.2M1225.03 193.8V209.7M1240.45 171.9V196.5M1249.71 161.9V246.3M1255.88 206.5V243.9M1258.96 233.7V263.3M1262.04 254.2V274.7M1265.13 254.2V288.4M1268.21 286.1V307.8M1280.55 270.1V295.2M1283.64 288.4V319.2M1286.72 308.4V361.3" stroke="#F23645" stroke-width="1" fill="none"/><path d="M14.65 119.4h2.6V151.0h-2.6zM26.98 140.7h2.6V151.7h-2.6zM30.07 122.0h2.6V140.7h-2.6zM33.15 122.0h2.6V136.2h-2.6zM45.49 145.2h2.6V154.3h-2.6zM54.74 181.4h2.6V191.7h-2.6zM67.08 205.3h2.6V218.2h-2.6zM70.17 199.9h2.6V205.3h-2.6zM88.67 229.2h2.6V241.5h-2.6zM94.84 218.9h2.6V245.3h-2.6zM107.18 240.6h2.6V243.0h-2.6zM110.26 213.0h2.6V240.6h-2.6zM116.43 216.9h2.6V224.4h-2.6zM119.52 205.3h2.6V216.9h-2.6zM122.60 198.8h2.6V205.3h-2.6zM125.69 158.8h2.6V198.8h-2.6zM138.02 146.5h2.6V169.1h-2.6zM147.28 169.8h2.6V177.5h-2.6zM150.36 154.0h2.6V169.8h-2.6zM159.61 169.8h2.6V185.3h-2.6zM162.70 169.5h2.6V178.8h-2.6zM171.95 181.4h2.6V189.1h-2.6zM175.04 153.0h2.6V181.4h-2.6zM178.12 142.4h2.6V159.4h-2.6zM181.20 138.8h2.6V142.4h-2.6zM184.29 98.8h2.6V138.8h-2.6zM187.37 66.5h2.6V98.8h-2.6zM190.46 64.5h2.6V66.5h-2.6zM193.54 63.0h2.6V64.5h-2.6zM212.05 114.9h2.6V120.1h-2.6zM215.13 113.0h2.6V124.0h-2.6zM221.30 135.6h2.6V149.8h-2.6zM233.64 159.5h2.6V163.1h-2.6zM236.72 137.9h2.6V159.5h-2.6zM245.98 150.5h2.6V156.3h-2.6zM249.06 140.1h2.6V150.5h-2.6zM258.31 169.8h2.6V173.1h-2.6zM270.65 175.7h2.6V184.7h-2.6zM286.07 202.5h2.6V209.7h-2.6zM289.16 182.0h2.6V202.5h-2.6zM292.24 163.8h2.6V182.0h-2.6zM301.50 209.0h2.6V216.2h-2.6zM307.66 231.9h2.6V234.3h-2.6zM313.83 226.8h2.6V242.2h-2.6zM316.92 223.7h2.6V241.1h-2.6zM320.00 222.3h2.6V223.7h-2.6zM329.26 244.9h2.6V259.8h-2.6zM332.34 242.4h2.6V255.3h-2.6zM357.02 282.4h2.6V307.0h-2.6zM360.10 277.9h2.6V282.4h-2.6zM369.35 305.0h2.6V320.5h-2.6zM372.44 292.7h2.6V305.0h-2.6zM375.52 278.5h2.6V292.7h-2.6zM381.69 270.8h2.6V285.6h-2.6zM384.77 266.9h2.6V270.8h-2.6zM394.03 288.2h2.6V303.7h-2.6zM397.11 279.2h2.6V288.2h-2.6zM403.28 279.2h2.6V296.6h-2.6zM406.37 276.6h2.6V279.2h-2.6zM409.45 250.1h2.6V276.6h-2.6zM421.79 276.6h2.6V286.3h-2.6zM424.87 267.9h2.6V276.6h-2.6zM434.13 267.5h2.6V283.7h-2.6zM437.21 230.7h2.6V267.5h-2.6zM446.46 236.5h2.6V244.3h-2.6zM452.63 246.9h2.6V252.7h-2.6zM455.72 239.9h2.6V246.9h-2.6zM458.80 179.3h2.6V239.9h-2.6zM468.05 172.2h2.6V192.9h-2.6zM471.14 159.9h2.6V172.2h-2.6zM480.39 172.9h2.6V179.3h-2.6zM483.48 160.6h2.6V172.9h-2.6zM486.56 155.4h2.6V160.6h-2.6zM489.64 145.7h2.6V155.4h-2.6zM511.24 209.0h2.6V220.7h-2.6zM517.40 214.8h2.6V220.7h-2.6zM520.49 200.6h2.6V214.8h-2.6zM523.57 181.3h2.6V200.6h-2.6zM526.66 143.9h2.6V181.3h-2.6zM532.83 166.4h2.6V176.7h-2.6zM538.99 148.3h2.6V166.4h-2.6zM542.08 140.6h2.6V163.8h-2.6zM545.16 137.3h2.6V140.6h-2.6zM548.25 136.0h2.6V137.3h-2.6zM551.33 128.3h2.6V136.0h-2.6zM554.42 105.7h2.6V128.3h-2.6zM572.92 159.3h2.6V167.7h-2.6zM579.09 154.8h2.6V161.9h-2.6zM585.26 154.1h2.6V163.8h-2.6zM588.35 151.9h2.6V154.1h-2.6zM600.68 183.1h2.6V185.3h-2.6zM603.77 180.9h2.6V183.1h-2.6zM606.85 176.4h2.6V183.1h-2.6zM616.10 180.9h2.6V191.9h-2.6zM622.27 189.9h2.6V195.1h-2.6zM628.44 191.2h2.6V197.7h-2.6zM634.61 183.1h2.6V206.1h-2.6zM643.86 221.6h2.6V227.4h-2.6zM646.95 216.4h2.6V221.6h-2.6zM650.03 214.5h2.6V216.4h-2.6zM653.12 212.3h2.6V214.5h-2.6zM662.37 231.9h2.6V239.0h-2.6zM665.46 217.7h2.6V231.9h-2.6zM668.54 214.5h2.6V217.7h-2.6zM671.62 211.9h2.6V214.5h-2.6zM674.71 204.1h2.6V213.8h-2.6zM677.79 202.9h2.6V204.1h-2.6zM680.88 200.9h2.6V202.9h-2.6zM683.96 199.6h2.6V200.9h-2.6zM687.05 190.5h2.6V199.6h-2.6zM699.38 195.1h2.6V205.4h-2.6zM702.47 189.9h2.6V195.1h-2.6zM705.55 188.6h2.6V189.9h-2.6zM708.64 175.3h2.6V188.6h-2.6zM711.72 158.4h2.6V175.3h-2.6zM720.97 162.8h2.6V166.7h-2.6zM724.06 157.6h2.6V162.8h-2.6zM730.23 177.7h2.6V180.2h-2.6zM739.48 167.3h2.6V187.4h-2.6zM748.73 194.9h2.6V206.1h-2.6zM767.24 217.4h2.6V227.1h-2.6zM770.32 196.7h2.6V217.4h-2.6zM773.41 194.5h2.6V196.7h-2.6zM779.58 187.0h2.6V197.0h-2.6zM801.17 249.0h2.6V267.1h-2.6zM807.34 256.1h2.6V259.4h-2.6zM810.42 252.9h2.6V256.1h-2.6zM813.51 238.0h2.6V252.9h-2.6zM819.68 229.0h2.6V241.3h-2.6zM832.01 234.8h2.6V252.9h-2.6zM835.10 232.9h2.6V234.8h-2.6zM838.18 221.3h2.6V232.9h-2.6zM841.27 218.0h2.6V221.3h-2.6zM850.52 216.1h2.6V227.1h-2.6zM853.60 213.5h2.6V216.1h-2.6zM856.69 209.6h2.6V213.5h-2.6zM859.77 201.2h2.6V209.6h-2.6zM862.86 179.8h2.6V201.2h-2.6zM869.03 182.8h2.6V185.7h-2.6zM884.45 192.2h2.6V201.2h-2.6zM887.53 187.0h2.6V192.2h-2.6zM896.79 193.3h2.6V202.5h-2.6zM899.87 181.1h2.6V193.3h-2.6zM902.95 173.3h2.6V192.7h-2.6zM906.04 174.6h2.6V181.1h-2.6zM912.21 177.2h2.6V187.3h-2.6zM921.46 217.2h2.6V227.6h-2.6zM924.54 203.7h2.6V226.3h-2.6zM936.88 228.2h2.6V230.2h-2.6zM939.97 226.0h2.6V228.2h-2.6zM949.22 229.5h2.6V242.8h-2.6zM958.47 239.2h2.6V247.6h-2.6zM961.56 237.3h2.6V239.2h-2.6zM964.64 228.2h2.6V237.3h-2.6zM967.73 225.6h2.6V228.2h-2.6zM970.81 211.4h2.6V225.6h-2.6zM973.90 205.0h2.6V211.4h-2.6zM976.98 194.0h2.6V205.0h-2.6zM986.23 198.5h2.6V203.9h-2.6zM989.32 185.6h2.6V198.5h-2.6zM992.40 172.0h2.6V185.6h-2.6zM1001.65 161.2h2.6V176.3h-2.6zM1010.91 176.7h2.6V179.8h-2.6zM1020.16 191.1h2.6V193.6h-2.6zM1023.25 186.9h2.6V191.1h-2.6zM1038.67 170.3h2.6V209.2h-2.6zM1041.75 156.5h2.6V170.3h-2.6zM1057.17 163.7h2.6V167.9h-2.6zM1060.26 143.3h2.6V163.7h-2.6zM1063.34 136.6h2.6V143.3h-2.6zM1069.51 133.0h2.6V150.4h-2.6zM1072.60 113.6h2.6V133.0h-2.6zM1075.68 98.5h2.6V113.6h-2.6zM1078.76 91.0h2.6V98.5h-2.6zM1084.93 77.8h2.6V104.8h-2.6zM1091.10 80.4h2.6V88.4h-2.6zM1103.44 117.1h2.6V124.0h-2.6zM1109.61 115.2h2.6V128.1h-2.6zM1112.69 103.7h2.6V115.2h-2.6zM1128.12 116.6h2.6V137.5h-2.6zM1131.20 107.8h2.6V116.6h-2.6zM1134.28 96.7h2.6V116.8h-2.6zM1140.45 102.0h2.6V104.2h-2.6zM1143.54 87.8h2.6V102.0h-2.6zM1146.62 85.8h2.6V87.8h-2.6zM1152.79 82.0h2.6V105.2h-2.6zM1158.96 82.9h2.6V98.8h-2.6zM1162.04 80.7h2.6V82.9h-2.6zM1180.55 148.9h2.6V150.4h-2.6zM1183.63 147.6h2.6V148.9h-2.6zM1192.89 161.9h2.6V164.6h-2.6zM1208.31 184.7h2.6V198.3h-2.6zM1220.65 198.3h2.6V213.8h-2.6zM1226.82 203.8h2.6V209.7h-2.6zM1229.90 202.0h2.6V203.8h-2.6zM1232.98 188.8h2.6V202.0h-2.6zM1236.07 179.2h2.6V188.8h-2.6zM1242.24 169.2h2.6V196.5h-2.6zM1245.32 163.7h2.6V182.8h-2.6zM1251.49 206.5h2.6V229.8h-2.6zM1270.00 296.4h2.6V300.9h-2.6zM1273.08 275.8h2.6V296.4h-2.6zM1276.17 275.3h2.6V288.4h-2.6zM1288.50 310.4h2.6V334.5h-2.6zM1291.59 304.3h2.6V310.4h-2.6z" fill="#089981"/><path d="M11.56 125.8h2.6V151.0h-2.6zM17.73 125.8h2.6V136.2h-2.6zM20.82 127.1h2.6V136.2h-2.6zM23.90 136.2h2.6V151.7h-2.6zM36.24 128.4h2.6V136.2h-2.6zM39.32 136.2h2.6V139.4h-2.6zM42.41 139.4h2.6V154.3h-2.6zM48.58 145.2h2.6V169.1h-2.6zM51.66 169.1h2.6V191.7h-2.6zM57.83 181.4h2.6V187.9h-2.6zM60.91 187.9h2.6V196.3h-2.6zM64.00 196.3h2.6V218.2h-2.6zM73.25 199.9h2.6V216.3h-2.6zM76.33 216.3h2.6V223.4h-2.6zM79.42 223.4h2.6V229.8h-2.6zM82.50 229.8h2.6V231.8h-2.6zM85.59 231.8h2.6V241.5h-2.6zM91.76 229.2h2.6V245.3h-2.6zM97.93 218.9h2.6V240.8h-2.6zM101.01 234.4h2.6V239.5h-2.6zM104.09 239.5h2.6V243.0h-2.6zM113.35 213.0h2.6V224.4h-2.6zM128.77 158.8h2.6V161.4h-2.6zM131.85 161.4h2.6V164.0h-2.6zM134.94 164.0h2.6V169.1h-2.6zM141.11 146.5h2.6V155.6h-2.6zM144.19 155.6h2.6V177.5h-2.6zM153.44 154.0h2.6V171.1h-2.6zM156.53 171.1h2.6V185.3h-2.6zM165.78 169.5h2.6V178.8h-2.6zM168.87 178.8h2.6V189.1h-2.6zM196.63 63.0h2.6V65.6h-2.6zM199.71 65.6h2.6V74.9h-2.6zM202.80 65.8h2.6V98.1h-2.6zM205.88 98.1h2.6V100.1h-2.6zM208.96 100.1h2.6V120.1h-2.6zM218.22 113.0h2.6V149.8h-2.6zM224.39 135.6h2.6V141.4h-2.6zM227.47 141.4h2.6V147.2h-2.6zM230.55 147.2h2.6V163.1h-2.6zM239.81 137.9h2.6V140.1h-2.6zM242.89 140.1h2.6V156.3h-2.6zM252.15 140.1h2.6V158.2h-2.6zM255.23 158.2h2.6V173.1h-2.6zM261.40 169.8h2.6V181.5h-2.6zM264.48 181.5h2.6V182.8h-2.6zM267.57 182.8h2.6V184.7h-2.6zM273.74 175.7h2.6V185.0h-2.6zM276.82 185.0h2.6V195.0h-2.6zM279.91 185.7h2.6V204.2h-2.6zM282.99 204.2h2.6V209.7h-2.6zM295.33 163.8h2.6V193.6h-2.6zM298.41 193.6h2.6V216.2h-2.6zM304.58 209.0h2.6V234.3h-2.6zM310.75 231.9h2.6V242.2h-2.6zM323.09 222.3h2.6V231.1h-2.6zM326.17 231.1h2.6V259.8h-2.6zM335.42 242.4h2.6V246.9h-2.6zM338.51 246.9h2.6V252.7h-2.6zM341.59 252.7h2.6V255.3h-2.6zM344.68 255.3h2.6V258.5h-2.6zM347.76 258.5h2.6V281.1h-2.6zM350.85 272.1h2.6V283.0h-2.6zM353.93 283.0h2.6V307.0h-2.6zM363.18 277.9h2.6V311.5h-2.6zM366.27 311.5h2.6V320.5h-2.6zM378.61 278.5h2.6V285.6h-2.6zM387.86 266.9h2.6V296.6h-2.6zM390.94 288.9h2.6V303.7h-2.6zM400.20 279.2h2.6V296.6h-2.6zM412.53 250.1h2.6V276.6h-2.6zM415.62 276.6h2.6V283.0h-2.6zM418.70 283.0h2.6V286.3h-2.6zM427.96 267.9h2.6V283.7h-2.6zM431.04 277.2h2.6V283.7h-2.6zM440.29 230.7h2.6V234.0h-2.6zM443.38 234.0h2.6V244.3h-2.6zM449.55 236.5h2.6V252.7h-2.6zM461.88 179.3h2.6V193.5h-2.6zM464.97 184.5h2.6V192.9h-2.6zM474.22 159.9h2.6V169.0h-2.6zM477.31 169.0h2.6V179.3h-2.6zM492.73 145.7h2.6V150.2h-2.6zM495.81 150.2h2.6V180.0h-2.6zM498.90 180.0h2.6V187.1h-2.6zM501.98 180.6h2.6V196.1h-2.6zM505.07 196.1h2.6V209.0h-2.6zM508.15 209.0h2.6V220.7h-2.6zM514.32 209.0h2.6V220.7h-2.6zM529.74 143.9h2.6V176.7h-2.6zM535.91 147.0h2.6V166.4h-2.6zM557.50 105.7h2.6V117.3h-2.6zM560.59 117.3h2.6V127.6h-2.6zM563.67 127.6h2.6V129.4h-2.6zM566.75 127.9h2.6V159.9h-2.6zM569.84 159.9h2.6V167.7h-2.6zM576.01 159.3h2.6V161.9h-2.6zM582.18 154.8h2.6V163.8h-2.6zM591.43 151.9h2.6V157.4h-2.6zM594.51 157.4h2.6V158.6h-2.6zM597.60 158.6h2.6V185.3h-2.6zM609.94 176.4h2.6V179.3h-2.6zM613.02 179.3h2.6V191.9h-2.6zM619.19 180.9h2.6V195.1h-2.6zM625.36 189.9h2.6V197.7h-2.6zM631.53 191.2h2.6V206.1h-2.6zM637.70 183.1h2.6V211.3h-2.6zM640.78 211.3h2.6V227.4h-2.6zM656.20 212.3h2.6V216.4h-2.6zM659.29 216.4h2.6V239.0h-2.6zM690.13 190.5h2.6V193.2h-2.6zM693.21 193.2h2.6V204.1h-2.6zM696.30 195.1h2.6V205.4h-2.6zM714.81 158.4h2.6V162.2h-2.6zM717.89 162.2h2.6V166.7h-2.6zM727.14 157.6h2.6V180.2h-2.6zM733.31 177.7h2.6V183.5h-2.6zM736.40 183.5h2.6V187.4h-2.6zM742.57 167.3h2.6V187.4h-2.6zM745.65 187.4h2.6V206.1h-2.6zM751.82 194.9h2.6V198.0h-2.6zM754.90 198.0h2.6V199.3h-2.6zM757.99 199.3h2.6V210.3h-2.6zM761.07 210.3h2.6V211.6h-2.6zM764.16 210.3h2.6V227.1h-2.6zM776.49 194.5h2.6V197.0h-2.6zM782.66 187.0h2.6V188.3h-2.6zM785.75 188.3h2.6V225.1h-2.6zM788.83 225.1h2.6V231.6h-2.6zM791.92 231.6h2.6V255.5h-2.6zM795.00 255.5h2.6V265.8h-2.6zM798.08 256.8h2.6V267.1h-2.6zM804.25 249.0h2.6V259.4h-2.6zM816.59 238.0h2.6V241.3h-2.6zM822.76 229.0h2.6V242.6h-2.6zM825.84 233.5h2.6V243.9h-2.6zM828.93 233.5h2.6V252.9h-2.6zM844.35 218.0h2.6V222.5h-2.6zM847.43 222.5h2.6V227.1h-2.6zM865.94 179.8h2.6V185.7h-2.6zM872.11 182.8h2.6V186.0h-2.6zM875.19 186.0h2.6V189.0h-2.6zM878.28 189.0h2.6V199.3h-2.6zM881.36 199.3h2.6V201.2h-2.6zM890.62 187.0h2.6V188.7h-2.6zM893.70 188.7h2.6V202.5h-2.6zM909.12 174.6h2.6V187.3h-2.6zM915.29 177.2h2.6V207.7h-2.6zM918.38 207.7h2.6V219.8h-2.6zM927.63 203.7h2.6V228.9h-2.6zM930.71 228.9h2.6V240.5h-2.6zM933.80 227.6h2.6V239.2h-2.6zM943.05 226.0h2.6V241.1h-2.6zM946.14 241.1h2.6V242.8h-2.6zM952.30 229.5h2.6V237.3h-2.6zM955.39 237.3h2.6V247.6h-2.6zM980.06 194.0h2.6V199.8h-2.6zM983.15 199.8h2.6V203.9h-2.6zM995.49 172.0h2.6V174.6h-2.6zM998.57 174.6h2.6V176.3h-2.6zM1004.74 161.2h2.6V175.9h-2.6zM1007.82 175.9h2.6V179.8h-2.6zM1013.99 176.7h2.6V189.5h-2.6zM1017.08 189.5h2.6V193.6h-2.6zM1026.33 186.9h2.6V199.8h-2.6zM1029.41 199.8h2.6V203.0h-2.6zM1032.50 200.4h2.6V203.0h-2.6zM1035.58 201.1h2.6V209.2h-2.6zM1044.84 156.5h2.6V164.9h-2.6zM1047.92 164.9h2.6V166.4h-2.6zM1051.01 166.4h2.6V168.5h-2.6zM1054.09 164.7h2.6V167.9h-2.6zM1066.43 136.6h2.6V150.4h-2.6zM1081.85 91.0h2.6V104.8h-2.6zM1088.02 77.8h2.6V88.4h-2.6zM1094.19 80.4h2.6V102.0h-2.6zM1097.27 102.0h2.6V115.6h-2.6zM1100.36 115.6h2.6V124.0h-2.6zM1106.52 117.1h2.6V128.1h-2.6zM1115.78 103.7h2.6V113.6h-2.6zM1118.86 113.6h2.6V129.1h-2.6zM1121.95 129.1h2.6V130.4h-2.6zM1125.03 130.4h2.6V137.5h-2.6zM1137.37 96.7h2.6V104.2h-2.6zM1149.71 85.8h2.6V105.2h-2.6zM1155.87 82.0h2.6V98.8h-2.6zM1165.13 83.3h2.6V96.8h-2.6zM1168.21 96.8h2.6V120.1h-2.6zM1171.30 120.1h2.6V125.9h-2.6zM1174.38 125.9h2.6V129.8h-2.6zM1177.47 129.8h2.6V150.4h-2.6zM1186.72 147.6h2.6V160.9h-2.6zM1189.80 160.9h2.6V164.6h-2.6zM1195.97 161.9h2.6V171.4h-2.6zM1199.06 171.4h2.6V176.0h-2.6zM1202.14 176.0h2.6V186.9h-2.6zM1205.23 186.9h2.6V198.3h-2.6zM1211.39 184.7h2.6V202.4h-2.6zM1214.48 202.4h2.6V207.5h-2.6zM1217.56 207.5h2.6V213.8h-2.6zM1223.73 198.3h2.6V209.7h-2.6zM1239.15 179.2h2.6V196.5h-2.6zM1248.41 163.7h2.6V229.8h-2.6zM1254.58 206.5h2.6V234.2h-2.6zM1257.66 234.2h2.6V254.8h-2.6zM1260.74 254.8h2.6V266.7h-2.6zM1263.83 266.7h2.6V286.1h-2.6zM1266.91 286.1h2.6V300.9h-2.6zM1279.25 275.3h2.6V294.7h-2.6zM1282.34 294.7h2.6V310.4h-2.6zM1285.42 310.4h2.6V334.5h-2.6z" fill="#F23645"/></g><clipPath id="cr"><rect x="13" y="395" width="1442" height="189"/></clipPath><path clip-path="url(#cr)" d="M9.0 485.0L12.2 472.5L15.5 459.6L20.4 465.7L24.5 478.8L27.8 473.3L30.5 460.2L34.1 473.9L37.4 472.5L40.1 479.3L42.8 488.9L46.1 484.3L48.9 498.5L52.4 519.0L55.1 510.8L58.7 513.5L61.4 520.4L64.7 534.1L68.0 521.8L70.7 519.8L73.5 528.6L77.0 534.1L79.8 539.0L82.5 539.5L86.1 542.8L89.9 531.9L92.1 542.3L95.6 512.7L98.4 525.9L101.1 524.5L104.4 529.1L107.9 526.4L110.4 495.2L113.4 504.5L116.7 501.8L119.4 488.9L122.7 478.0L126.3 448.7L129.6 449.8L132.3 456.9L135.3 458.0L139.1 442.4L141.9 457.5L144.6 476.6L147.6 473.9L150.6 459.6L153.6 473.9L157.2 488.9L159.9 478.8L163.2 478.0L166.5 487.0L170.1 495.8L172.8 482.1L176.1 462.9L179.1 456.1L181.3 453.4L184.6 428.7L188.4 415.9L191.1 415.0L193.9 414.2L197.1 417.8L200.2 435.6L203.2 457.5L206.2 458.0L209.2 479.3L212.5 483.4L215.7 473.9L219.3 505.3L222.0 494.4L225.3 499.0L228.3 502.6L231.1 514.9L234.4 511.6L237.6 492.5L239.8 493.6L243.4 506.7L246.7 501.8L249.4 499.0L253.0 509.4L256.2 520.9L259.0 520.4L261.7 528.0L265.0 530.0L268.5 530.0L270.7 519.0L274.0 533.5L277.6 525.3L280.3 540.1L283.6 543.6L286.9 531.3L289.6 503.4L292.6 488.1L295.9 513.5L299.2 530.0L301.9 523.7L304.9 539.0L308.2 536.8L311.0 543.6L314.2 541.7L317.0 521.8L320.0 519.8L323.3 525.9L326.8 546.4L330.1 536.3L332.8 526.4L333.3 526.4L336.8 530.0L339.6 533.5L342.3 534.1L345.6 537.3L348.6 550.5L351.3 556.0L354.6 569.1L357.9 539.0L360.6 535.4L363.7 555.4L366.9 557.3L370.2 539.5L373.2 523.7L376.5 509.4L379.2 513.5L382.5 501.2L385.5 495.8L388.8 520.4L391.6 525.3L394.8 508.1L397.9 502.6L400.6 512.7L403.9 498.5L407.2 494.4L409.6 471.7L412.9 495.8L416.2 501.8L419.5 502.6L422.5 501.8L425.8 486.2L429.0 497.9L431.8 499.9L435.3 480.7L438.6 454.7L441.4 459.6L444.4 467.0L447.1 464.3L449.8 479.9L453.1 473.9L456.7 469.8L458.9 430.6L461.9 443.8L465.4 443.2L468.7 432.8L471.5 427.4L475.0 438.3L478.6 447.9L481.8 441.6L484.6 436.1L487.3 434.2L490.1 427.9L493.3 435.0L496.3 468.4L499.1 471.1L502.4 484.8L505.9 497.1L509.2 506.7L511.9 496.3L515.2 505.3L518.2 504.5L521.0 493.0L524.3 471.1L527.5 443.8L530.3 473.9L533.3 469.8L537.1 456.9L539.3 469.8L542.6 456.9L546.1 454.7L548.9 454.7L552.2 446.5L555.4 436.1L558.5 448.7L561.2 458.0L563.9 460.7L567.2 487.0L570.2 494.4L573.5 487.0L576.2 489.7L579.0 486.2L582.5 493.6L585.8 482.1L588.5 480.7L592.1 487.6L595.4 488.1L598.7 513.5L601.7 510.0L604.4 513.5L607.7 503.4L610.4 508.1L613.7 518.2L616.7 505.3L619.5 517.6L622.7 512.2L626.3 519.0L628.8 513.5L631.8 525.3L635.3 497.1L638.3 517.6L641.4 533.5L644.6 528.0L648.2 521.8L651.5 518.2L656.8 519.0L659.6 539.0L662.9 528.6L666.4 509.4L669.2 507.3L671.9 506.2L675.4 493.0L678.7 489.7L682.0 487.6L684.7 487.0L688.3 474.4L691.0 478.0L694.3 481.5L697.6 497.1L700.1 482.1L703.4 473.9L706.6 472.5L709.4 452.0L712.4 437.8L715.7 444.3L718.9 451.4L721.7 450.6L725.0 443.2L728.0 481.5L730.7 479.3L734.3 488.1L737.6 491.7L739.7 465.1L743.0 493.0L746.6 514.9L749.0 502.6L752.6 504.5L755.9 506.2L758.9 519.8L761.6 519.0L764.9 535.4L768.2 521.8L770.9 491.7L774.5 490.8L777.2 490.3L780.2 480.7L783.2 482.1L786.3 526.4L789.0 531.9L792.3 550.5L795.6 555.4L798.3 557.3L801.8 530.0L805.1 537.3L808.1 532.7L810.9 531.9L814.2 510.0L817.4 510.8L820.2 497.1L823.5 509.4L826.7 499.0L829.2 517.1L832.5 499.0L836.0 493.0L838.8 480.7L842.1 478.0L845.6 484.3L848.4 486.2L851.1 473.3L854.4 478.0L857.9 470.6L860.7 458.0L864.0 439.7L867.0 448.7L869.7 448.7L873.0 455.3L876.3 456.9L878.7 474.4L881.7 478.0L885.3 464.3L888.6 459.6L891.3 461.6L894.6 491.7L897.6 480.7L900.9 470.6L903.9 450.6L906.6 460.7L909.4 468.9L913.2 461.6L916.2 499.9L918.9 513.5L922.2 521.8L925.5 493.6L928.5 514.9L931.3 523.7L934.5 513.5L937.8 510.8L940.6 509.4L944.1 521.8L947.4 524.5L950.1 506.7L953.1 512.7L956.4 523.1L959.2 512.7L962.4 508.1L965.5 497.1L967.9 494.4L971.5 476.6L975.5 465.7L978.2 458.8L981.5 467.9L984.5 471.7L987.8 465.1L990.5 450.6L993.3 439.7L996.5 447.1L999.3 445.1L1002.3 433.4L1005.6 456.1L1008.3 465.1L1011.6 462.4L1014.9 480.7L1018.4 487.6L1021.4 483.4L1024.2 479.3L1027.5 496.3L1030.2 499.9L1033.5 495.2L1036.8 510.8L1039.8 458.8L1042.5 448.7L1045.8 458.0L1048.5 462.4L1052.1 464.3L1055.4 465.7L1058.1 460.7L1061.1 438.9L1064.4 434.2L1067.7 456.1L1070.4 439.7L1073.4 427.4L1076.7 417.8L1079.4 413.7L1082.4 433.4L1085.7 418.6L1088.2 431.5L1091.8 427.4L1095.0 454.7L1098.0 468.4L1100.8 480.7L1104.1 474.4L1107.6 483.4L1110.4 471.1L1113.6 464.3L1116.9 473.3L1119.7 491.7L1123.2 496.3L1126.5 498.5L1129.2 478.0L1132.2 477.2L1135.5 460.7L1138.8 467.9L1141.5 466.2L1144.6 454.2L1147.8 453.4L1150.6 476.1L1153.6 456.1L1156.9 473.3L1159.6 462.4L1162.9 467.0L1166.2 478.0L1168.9 500.7L1172.5 508.1L1175.2 510.8L1177.9 527.2L1181.2 525.9L1184.5 524.5L1188.1 534.6L1190.8 536.3L1193.8 534.1L1197.1 540.9L1200.4 547.7L1203.9 555.4L1206.4 560.9L1208.9 541.7L1212.1 553.8L1215.4 557.3L1218.2 561.4L1221.4 536.8L1224.4 544.5L1227.7 538.2L1230.7 533.5L1234.0 514.9L1237.3 501.8L1240.0 518.2L1243.1 500.7L1246.3 482.6L1249.1 532.7L1252.4 512.7L1255.1 524.5L1257.8 539.0L1261.4 545.0L1264.9 553.8L1268.2 559.2L1271.0 556.5L1274.2 534.6L1277.3 534.1L1280.5 545.0L1284.1 554.6L1286.8 562.0L1289.6 536.8L1292.8 533.2" stroke="#A45FC9" stroke-width="1.2" fill="none" stroke-linejoin="round"/><g transform="translate(12,629.7) scale(0.617)" fill="#1E222D"><path d="M14 22H7V11H0V4h14v18z"/><circle cx="20" cy="8" r="4"/><path d="M28 22h-8l7.5-18h8L28 22z"/></g></svg>
<div class="t" style="left:21.5px;top:22px;color:#131722;letter-spacing:-0.19px">EUR/USD Spot, 1D</div>
<div class="t" style="left:140.9px;top:22px;color:#131722;font-size:12.5px">O</div>
<div class="t" style="left:152px;top:22px;color:#089981;letter-spacing:-0.12px">1.04925</div>
<div class="t" style="left:207.3px;top:22px;color:#131722;font-size:12.5px">H</div>
<div class="t" style="left:217.1px;top:22px;color:#089981;letter-spacing:-0.12px">1.05107</div>
<div class="t" style="left:272.6px;top:22px;color:#131722;font-size:12.5px">L</div>
<div class="t" style="left:280.2px;top:22px;color:#089981;letter-spacing:-0.12px">1.04251</div>
<div class="t" style="left:336px;top:22px;color:#131722;font-size:12.5px">C</div>
<div class="t" style="left:345.3px;top:22px;color:#089981;letter-spacing:-0.12px">1.05051</div>
<div class="t" style="left:401.3px;top:22px;color:#089981;letter-spacing:-0.05px">+0.00126 (+0.12%)</div>
<div class="t" style="left:21.5px;top:41.5px;color:#131722;letter-spacing:0.19px">EMA (20, close, 0)</div>
<div class="t" style="left:141px;top:41.5px;color:#C2185B;letter-spacing:0.1px">1.06234</div>
<div class="t" style="left:21.5px;top:60.7px;color:#131722;letter-spacing:0.19px">EMA (50, close, 0)</div>
<div class="t" style="left:141px;top:60.7px;color:#7B1FA2;letter-spacing:0.1px">1.07712</div>
<div class="t" style="left:21.5px;top:80px;color:#131722;letter-spacing:0.19px">EMA (200, close, 0)</div>
<div class="t" style="left:148.5px;top:80px;color:#512DA8;letter-spacing:0.1px">1.08530</div>
<div class="t" style="left:21.4px;top:405.5px;color:#131722;letter-spacing:-0.22px">RSI (14)</div>
<div class="t" style="left:77px;top:405.5px;color:#A45FC9;letter-spacing:0.1px">36.18</div>
<div class="ax" style="top:67.8px;text-indent:-2px">1.12000</div>
<div class="ax" style="top:134.1px;text-indent:-2px">1.10000</div>
<div class="ax" style="top:200.3px;text-indent:-2px">1.08000</div>
<div class="ax" style="top:266.6px;text-indent:-2px">1.06000</div>
<div class="ax" style="top:332.8px;text-indent:-2px">1.04000</div>
<div class="clip">
<div class="ax" style="left:0;top:-3.3px;text-align:left;text-indent:9.5px">80.00</div>
<div class="ax" style="left:0;top:58.0px;text-align:left;text-indent:9.5px">60.00</div>
<div class="ax" style="left:0;top:119.3px;text-align:left;text-indent:9.5px">40.00</div>
<div class="ax" style="left:0;top:180.6px;text-align:left;text-indent:9.5px">20.00</div>
</div>
<div class="tag" style="top:180.2px;background:#512DA8">1.08530</div>
<div class="tag" style="top:207.9px;background:#7B1FA2">1.07712</div>
<div class="tag" style="top:256.9px;background:#C2185B">1.06234</div>
<div class="tag" style="top:296.0px;background:#089981">1.05051</div>
<div class="tag" style="top:315.1px;background:#2962FF">1.04465</div>
<div class="tag" style="top:524.3px;width:49.3px;background:#A45FC9;text-indent:2.5px">36.18</div>
<div class="tm" style="left:24.30px;letter-spacing:0px;">May</div>
<div class="tm" style="left:163.50px;letter-spacing:0.6px;">Jul</div>
<div class="tm" style="left:299.50px;letter-spacing:0px;">Sep</div>
<div class="tm" style="left:431.88px;letter-spacing:0.45px;">Nov</div>
<div class="tm" style="left:564.38px;letter-spacing:0.75px;font-weight:bold;">2024</div>
<div class="tm" style="left:700.45px;letter-spacing:0.1px;">Mar</div>
<div class="tm" style="left:833.10px;letter-spacing:0px;">May</div>
<div class="tm" style="left:965.40px;letter-spacing:0.6px;">Jul</div>
<div class="tm" style="left:1104.50px;letter-spacing:0px;">Sep</div>
<div class="tm" style="left:1239.98px;letter-spacing:0.45px;">Nov</div>
<div class="tm" style="left:1403.22px;letter-spacing:0.75px;font-weight:bold;">2025</div>
<div class="t" style="left:1038.5px;top:331.6px;font-size:33px;line-height:36px;color:#2962FF;letter-spacing:-1.07px;-webkit-text-stroke:0.45px">Two-Year Low</div>
<div class="t" style="left:38.4px;top:629.4px;font-size:14px;line-height:18px;color:#1E222D;letter-spacing:0.36px">TradingView</div>
</body></html>
